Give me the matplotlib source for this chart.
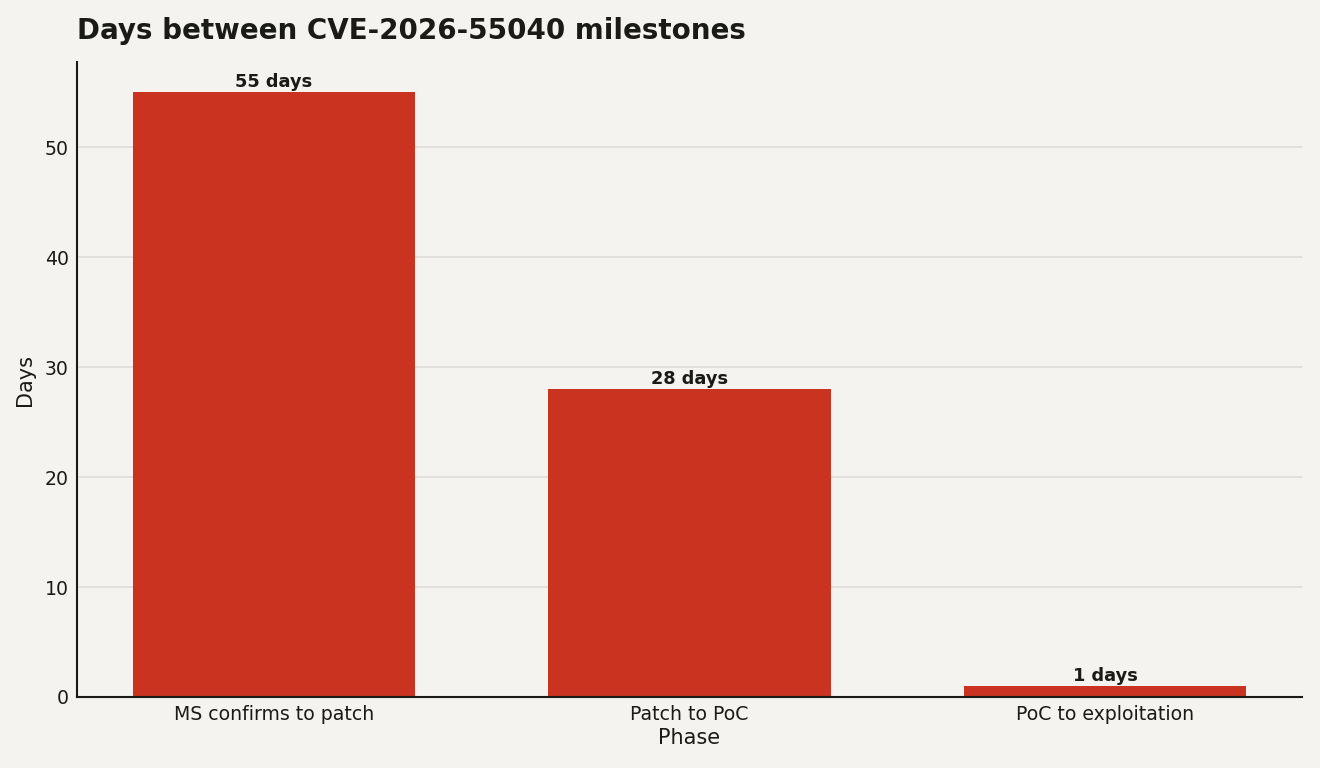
import matplotlib
matplotlib.use('Agg')
import matplotlib.pyplot as plt

# values
phases = ['MS confirms to patch', 'Patch to PoC', 'PoC to exploitation']
days = [55, 28, 1]

bg = '#f4f3ef'
bar_color = '#c93320'
ink = '#1a1a17'

plt.rcParams['font.family'] = ['DejaVu Sans']

fig, ax = plt.subplots(figsize=(13.2, 7.68), dpi=100)
fig.patch.set_facecolor(bg)
ax.set_facecolor(bg)

bars = ax.bar(phases, days, width=0.68, color=bar_color, zorder=2)
for b, d in zip(bars, days):
    ax.annotate('{} days'.format(d), (b.get_x() + b.get_width() / 2, b.get_height()),
                xytext=(0, 1), textcoords='offset points', ha='center', va='bottom',
                fontsize=12.8, fontweight='bold', color=ink)

ax.set_ylim(0, 57.75)
ax.yaxis.grid(True, color='#dddcd6', linewidth=1.2, zorder=0)
ax.set_axisbelow(True)
for s in ['top', 'right']:
    ax.spines[s].set_visible(False)
for s in ['left', 'bottom']:
    ax.spines[s].set_color(ink)
    ax.spines[s].set_linewidth(1.5)
ax.tick_params(length=0, labelsize=13.6, colors=ink, pad=6)

ax.set_xlabel('Phase', fontsize=15, color=ink, labelpad=3)
ax.set_ylabel('Days', fontsize=15, color=ink, labelpad=7)
fig.text(77 / 1320, 1 - 31 / 768, 'Days between CVE-2026-55040 milestones',
         fontsize=20, fontweight='bold', color=ink, ha='left', va='center')

plt.subplots_adjust(left=77 / 1320, right=1302 / 1320, top=1 - 62 / 768, bottom=1 - 697 / 768)
plt.savefig('out.png', dpi=100, facecolor=bg)
